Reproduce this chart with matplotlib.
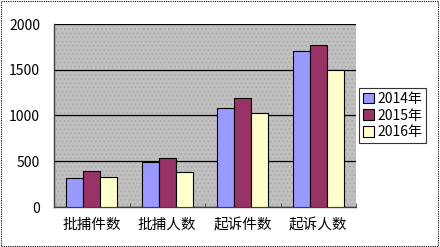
import numpy as np
import matplotlib
matplotlib.use("Agg")
from matplotlib import pyplot as plt
from matplotlib.patches import Rectangle

plt.rcParams['font.family'] = ['Noto Sans CJK SC', 'DejaVu Sans']
plt.rcParams['hatch.linewidth'] = 0.6

categories = ["批捕件数", "批捕人数", "起诉件数", "起诉人数"]
years = ["2014年", "2015年", "2016年"]
v2014 = [317, 489, 1087, 1707]
v2015 = [398, 536, 1186, 1769]
v2016 = [332, 387, 1025, 1496]

COLORS = ["#9999ff", "#993366", "#ffffcc"]
BAR_W = 0.225

fig = plt.figure(figsize=(4.4, 2.47), dpi=100)
ax = fig.add_axes([54/440, 1 - 207/247, 302/440, 183/247])

ax.set_facecolor("#c0c0c0")
# dotted texture of the plot area
ax.add_patch(Rectangle((0, 0), 1, 1, transform=ax.transAxes, facecolor="none",
                       edgecolor="#a8a8a8", hatch="....", linewidth=0, zorder=0))

x = np.arange(len(categories))
for i, (vals, col) in enumerate(zip([v2014, v2015, v2016], COLORS)):
	ax.bar(x + (i - 1) * BAR_W, vals, width=BAR_W, color=col, edgecolor="black",
	       linewidth=0.8, label=years[i], zorder=3)

ax.set_xlim(-0.5, len(categories) - 0.5)
ax.set_ylim(0, 2000)
ax.set_yticks([0, 500, 1000, 1500, 2000])
ax.yaxis.grid(True, color="black", linewidth=0.9, zorder=1)
ax.set_axisbelow(True)

ax.set_xticks(x)
ax.set_xticklabels(categories, fontsize=10.5)
ax.tick_params(axis="x", length=0, pad=8)
ax.set_xticks(np.arange(len(categories) + 1) - 0.5, minor=True)
ax.tick_params(axis="x", which="minor", length=3, direction="in", color="#404040")
ax.tick_params(axis="y", length=0, labelsize=10, pad=10)

for s in ["top", "right"]:
	ax.spines[s].set_visible(False)
ax.spines["left"].set_color("#404040")
ax.spines["bottom"].set_color("#404040")
ax.spines["left"].set_linewidth(1.0)
ax.spines["bottom"].set_linewidth(1.0)

leg = ax.legend(loc="center left", bbox_to_anchor=(359/302 - 54/302, 0.5),
                fontsize=10, frameon=True, fancybox=False, edgecolor="black",
                handlelength=0.8, handleheight=0.8, handletextpad=0.2,
                borderpad=0.3, labelspacing=0.2, borderaxespad=0)
leg.get_frame().set_linewidth(0.8)

fig.patches.append(Rectangle((0.003, 0.005), 0.992, 0.99, transform=fig.transFigure,
                             facecolor="none", edgecolor="black", linestyle=(0, (1, 1)),
                             linewidth=0.8))

fig.savefig("out.png", dpi=100)
